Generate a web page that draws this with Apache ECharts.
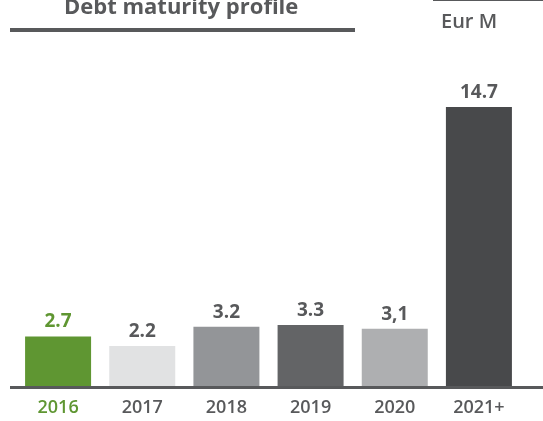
<!DOCTYPE html>
<html><head><meta charset="utf-8">
<script src="https://cdn.jsdelivr.net/npm/echarts@6/dist/echarts.min.js"></script>
<style>html,body{margin:0;padding:0;background:#fff}#c{width:543px;height:421px}</style>
</head><body><div id="c"></div>
<script>
const categories = ['2016', '2017', '2018', '2019', '2020', '2021+'];
const values = [2.7, 2.2, 3.2, 3.3, 3.1, 14.7];
const valueLabels = ['2.7', '2.2', '3.2', '3.3', '3,1', '14.7'];
const barColors = ['#5f9632', '#e1e2e3', '#939598', '#636466', '#aeafb1', '#48494b'];
const labelColors = ['#5f9632', '#58595b', '#58595b', '#58595b', '#58595b', '#58595b'];
const titleText = 'Debt maturity profile';
const unitText = 'Eur M';

const chart = echarts.init(document.getElementById('c'));
const font = '"Open Sans", "Noto Sans", sans-serif';
chart.setOption({
  animation: false,
  grid: { left: 16, right: 22, top: 107, bottom: 33 },
  xAxis: {
    type: 'category', data: categories,
    axisLine: { show: false }, axisTick: { show: false },
    axisLabel: {
      margin: 11, fontSize: 18, fontWeight: 600, fontFamily: font,
      color: (v, i) => labelColors[i]
    }
  },
  yAxis: { type: 'value', min: 0, max: 14.7, show: false, splitLine: { show: false } },
  series: [{
    type: 'bar', barWidth: 66,
    data: values.map((v, i) => ({ value: v, itemStyle: { color: barColors[i] },
      label: { color: labelColors[i] } })),
    label: {
      show: true, position: 'top', distance: 5, fontSize: 19, fontWeight: 700,
      fontFamily: font, formatter: p => valueLabels[p.dataIndex]
    }
  }],
  graphic: [
    { type: 'text', left: 64, top: -3, style: { text: titleText, fontSize: 22, fontWeight: 700, fontFamily: font, fill: '#58595b' } },
    { type: 'rect', shape: { x: 10, y: 28, width: 345, height: 4 }, style: { fill: '#58595b' } },
    { type: 'rect', shape: { x: 433, y: 0, width: 110, height: 1 }, style: { fill: '#58595b' } },
    { type: 'text', left: 441, top: 12, style: { text: unitText, fontSize: 20, fontWeight: 600, fontFamily: font, fill: '#58595b' } },
    { type: 'rect', shape: { x: 10, y: 386, width: 533, height: 3 }, style: { fill: '#58595b' }, z: 10 }
  ]
});
</script></body></html>
